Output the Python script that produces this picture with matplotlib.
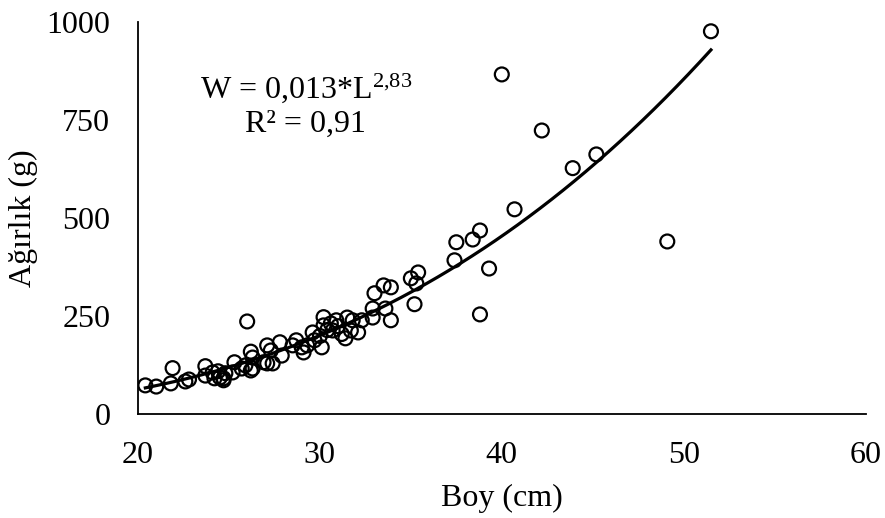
import numpy as np
import matplotlib
matplotlib.use("Agg")
from matplotlib import pyplot as plt

plt.rcParams['font.family'] = ['Liberation Serif', 'DejaVu Serif']
plt.rcParams['mathtext.fontset'] = 'custom'
plt.rcParams['mathtext.rm'] = 'Liberation Serif'
plt.rcParams['mathtext.it'] = 'Liberation Serif:italic'

# length (cm) and weight (g)
boy = [20.4, 21.0, 21.9, 21.8, 22.6, 22.8, 23.7, 23.7, 24.1, 24.2,
       24.4, 24.5, 24.7, 24.8, 24.7, 25.3, 25.2, 25.7, 25.9, 26.2,
       26.3, 26.2, 26.3, 26.9, 27.1, 27.1, 27.3, 27.4, 27.8, 27.9,
       28.5, 28.7, 29.0, 29.1, 29.3, 29.6, 29.7, 30.1, 30.2, 30.2,
       30.6, 30.7, 30.9, 31.4, 31.5, 31.7, 32.1, 31.8, 32.3, 32.9,
       33.0, 33.5, 33.9, 33.9, 26.0, 51.5, 40.0, 42.2, 43.9, 45.2,
       40.7, 49.1, 38.8, 38.4, 37.5, 37.4, 39.3, 38.8, 35.4, 35.0,
       35.3, 35.2, 32.9, 33.6, 30.0, 30.4, 31.0, 31.2]
agirlik = [74, 71, 118, 79, 84, 89, 123, 99, 107, 92,
           110, 94, 92, 105, 87, 133, 107, 117, 125, 160,
           145, 112, 117, 133, 176, 130, 163, 130, 184, 150,
           176, 189, 171, 158, 176, 209, 189, 171, 248, 227,
           232, 214, 240, 194, 247, 214, 209, 240, 240, 247,
           309, 329, 324, 240, 237, 977, 867, 724, 628, 663,
           523, 441, 469, 446, 439, 393, 372, 255, 362, 347,
           334, 281, 270, 270, 200, 215, 225, 205]

# fitted power model W = a * L^b (a shown rounded to 0,013 on the chart)
a, b = 0.0133, 2.83

fig = plt.figure(figsize=(8.85, 5.18), dpi=100)
ax = fig.add_axes([0.156, 0.2, 0.822, 0.757])

ax.scatter(boy, agirlik, s=100, facecolors='none', edgecolors='black',
           linewidths=1.6, zorder=3)

L = np.linspace(min(boy), max(boy), 200)
ax.plot(L, a * L ** b, color='black', lw=2.3, zorder=2)

ax.set_xlim(20, 60)
ax.set_ylim(0, 1000)
ax.set_xticks([20, 30, 40, 50, 60])
ax.set_yticks([0, 250, 500, 750, 1000])
ax.tick_params(length=0, labelsize=23, pad=19)
ax.tick_params(axis='y', pad=20)
for s in ['top', 'right']:
    ax.spines[s].set_visible(False)
for s in ['left', 'bottom']:
    ax.spines[s].set_linewidth(1.3)

ax.set_xlabel('Boy (cm)', fontsize=23, labelpad=10)
ax.set_ylabel('Ağırlık (g)', fontsize=23)
ax.yaxis.set_label_coords(-0.137, 0.5)

ax.text(0.231, 0.832, r'W = 0,013*L$^{2{,}83}$', transform=ax.transAxes,
        ha='center', va='center', fontsize=23)
ax.text(0.23, 0.74, 'R² = 0,91', transform=ax.transAxes,
        ha='center', va='center', fontsize=23)

fig.savefig('out.png', dpi=100)
